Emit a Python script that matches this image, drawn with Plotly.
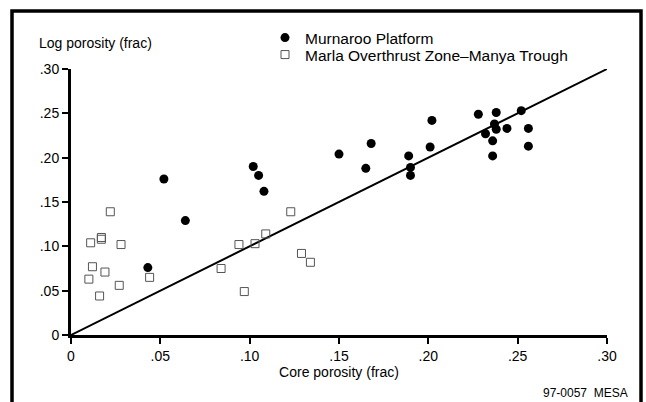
import plotly.graph_objects as go

# Murnaroo Platform (filled circles)
mur_core = [0.043, 0.052, 0.064, 0.102, 0.105, 0.108, 0.150, 0.165, 0.168, 0.189, 0.190, 0.190,
            0.201, 0.202, 0.228, 0.232, 0.238, 0.237, 0.238, 0.236, 0.236, 0.244, 0.252, 0.256, 0.256]
mur_log = [0.076, 0.176, 0.129, 0.190, 0.180, 0.162, 0.204, 0.188, 0.216, 0.202, 0.189, 0.180,
           0.212, 0.242, 0.249, 0.227, 0.251, 0.238, 0.232, 0.219, 0.202, 0.233, 0.253, 0.233, 0.213]

# Marla Overthrust Zone–Manya Trough (open squares)
mar_core = [0.011, 0.017, 0.017, 0.022, 0.028, 0.012, 0.019, 0.010, 0.027, 0.016, 0.044,
            0.084, 0.094, 0.103, 0.109, 0.097, 0.123, 0.129, 0.134]
mar_log = [0.104, 0.110, 0.108, 0.139, 0.102, 0.077, 0.071, 0.063, 0.056, 0.044, 0.065,
           0.075, 0.102, 0.103, 0.114, 0.049, 0.139, 0.092, 0.082]

# 1:1 reference line
line_x = [0.0, 0.30]
line_y = [0.0, 0.30]

tick_vals = [0, 0.05, 0.10, 0.15, 0.20, 0.25, 0.30]
tick_text = ["0", ".05", ".10", ".15", ".20", ".25", ".30"]

FONT = "Liberation Sans, Arial, sans-serif"

fig = go.Figure()
fig.add_trace(go.Scatter(x=line_x, y=line_y, mode="lines",
                         line=dict(color="black", width=2), showlegend=False,
                         hoverinfo="skip"))
fig.add_trace(go.Scatter(x=mur_core, y=mur_log, mode="markers", name="Murnaroo Platform",
                         legend="legend",
                         marker=dict(symbol="circle", size=9, color="black")))
fig.add_trace(go.Scatter(x=mar_core, y=mar_log, mode="markers",
                         name="Marla Overthrust Zone–Manya Trough", legend="legend2",
                         marker=dict(symbol="square-open", size=8, color="#555555",
                                     line=dict(width=1, color="#555555"))))

L, R, T, B = 71, 39, 69, 67
W, H = 646, 402
pw, ph = W - L - R, H - T - B

def px(x):
    return (x - L) / pw

def py(y):
    return (H - B - y) / ph

fig.add_shape(type="rect", xref="paper", yref="paper",
              x0=px(12), x1=px(641), y0=py(415), y1=py(11),
              line=dict(color="black", width=3.5), layer="below")

fig.add_annotation(x=px(37), y=py(43), xref="paper", yref="paper",
                   text="Log porosity (frac)", showarrow=False,
                   xanchor="left", yanchor="middle",
                   font=dict(size=14, color="black", family=FONT))
fig.add_annotation(x=px(630), y=py(393), xref="paper", yref="paper",
                   text="97-0057  MESA", showarrow=False,
                   xanchor="right", yanchor="middle",
                   font=dict(size=12, color="black", family=FONT))

axis_common = dict(range=[0, 0.30], tickvals=tick_vals, ticktext=tick_text,
                   showline=True, linewidth=3, linecolor="black",
                   ticks="outside", ticklen=6, tickwidth=2, tickcolor="black",
                   showgrid=False, zeroline=False,
                   tickfont=dict(size=14, color="black", family=FONT))

fig.update_xaxes(**axis_common,
                 title=dict(text="Core porosity (frac)", standoff=4,
                            font=dict(size=14, color="black", family=FONT)))
fig.update_yaxes(**axis_common)

leg_common = dict(xanchor="left", yanchor="middle", bgcolor="rgba(0,0,0,0)",
                  font=dict(size=15.5, family=FONT, color="black"), itemwidth=30,
                  borderwidth=0)

fig.update_layout(
    width=W, height=H,
    margin=dict(l=L, r=R, t=T, b=B, pad=0),
    paper_bgcolor="white", plot_bgcolor="white",
    font=dict(family=FONT, color="black"),
    legend=dict(x=px(265), y=py(38), **leg_common),
    legend2=dict(x=px(265), y=py(55), **leg_common),
)

fig.write_html("out.html")
